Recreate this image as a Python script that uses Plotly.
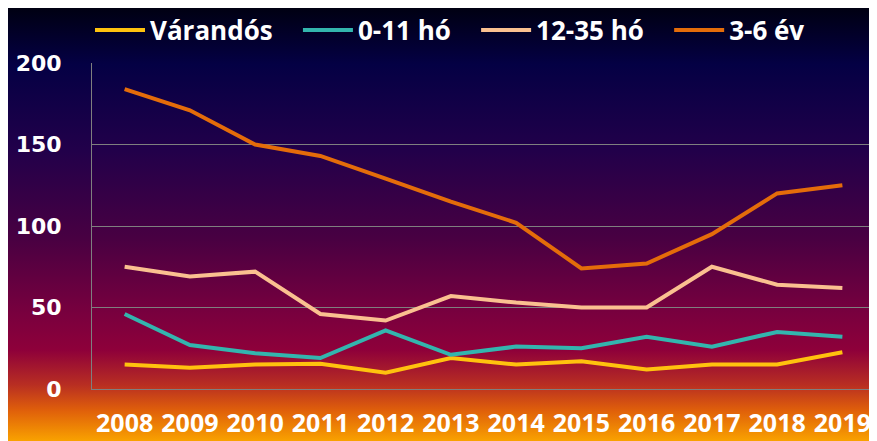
import base64
import plotly.graph_objects as go

years = ["2008", "2009", "2010", "2011", "2012", "2013", "2014", "2015", "2016", "2017", "2018", "2019"]
varandos = [15, 13, 15, 15.5, 10, 19, 15, 17, 12, 15, 15, 22.5]
ho_0_11 = [46, 27, 22, 19, 36, 21, 26, 25, 32, 26, 35, 32]
ho_12_35 = [75, 69, 72, 46, 42, 57, 53, 50, 50, 75, 64, 62]
ev_3_6 = [184, 171, 150, 143, 129, 115, 102, 74, 77, 95, 120, 125]

series_names = ["Várandós", "0-11 hó", "12-35 hó", "3-6 év"]
series_values = [varandos, ho_0_11, ho_12_35, ev_3_6]
series_colors = ["#FFC20E", "#33B5AE", "#FAC090", "#E46C0A"]

# page body has an 8px margin, so the figure is 8px smaller each way
W, H = 869, 433
ML, MR, MT, MB = 84, 2, 55, 52
PW, PH = W - ML - MR, H - MT - MB

svg = f'''<svg xmlns="http://www.w3.org/2000/svg" width="{W}" height="{H}" preserveAspectRatio="none">
<defs><linearGradient id="g" x1="0" y1="0" x2="0" y2="1">
<stop offset="0" stop-color="#000012"/>
<stop offset="0.13" stop-color="#040044"/>
<stop offset="0.33" stop-color="#22004a"/>
<stop offset="0.53" stop-color="#480042"/>
<stop offset="0.71" stop-color="#7a003e"/>
<stop offset="0.79" stop-color="#8e003a"/>
<stop offset="0.87" stop-color="#b82e22"/>
<stop offset="0.93" stop-color="#e0600a"/>
<stop offset="1" stop-color="#f9a200"/>
</linearGradient></defs>
<rect x="0" y="0" width="{W}" height="{H}" fill="url(#g)"/>
</svg>'''
src = "data:image/svg+xml;base64," + base64.b64encode(svg.encode()).decode()

fig = go.Figure()
for name, vals, col in zip(series_names, series_values, series_colors):
    fig.add_trace(go.Scatter(x=years, y=vals, name=name + "\u00a0\u00a0\u00a0", mode="lines",
                             line=dict(color=col, width=4)))

fig.add_layout_image(dict(
    source=src, xref="paper", yref="paper",
    x=-ML / PW, y=1 + MT / PH,
    sizex=W / PW, sizey=H / PH,
    xanchor="left", yanchor="top", sizing="stretch", layer="below"))

fig.update_layout(
    width=W, height=H,
    margin=dict(l=ML, r=MR, t=MT, b=MB, autoexpand=False),
    paper_bgcolor="white", plot_bgcolor="rgba(0,0,0,0)",
    showlegend=True,
    legend=dict(orientation="h", xref="container", yref="container",
                x=452 / W, xanchor="center",
                y=1 - 22 / H, yanchor="middle",
                font=dict(family="Open Sans", size=26, color="white", weight="bold"),
                bgcolor="rgba(0,0,0,0)", itemwidth=50),
    xaxis=dict(type="category", range=[-0.5, 11.5], showgrid=False,
               showline=True, linecolor="#7f7f7f", linewidth=1, ticks="",
               tickfont=dict(family="Open Sans", size=25, color="white", weight="bold"),
               ticklabelstandoff=12),
    yaxis=dict(range=[0, 200], tickvals=[0, 50, 100, 150, 200],
               showgrid=True, gridcolor="#7f7f7f", gridwidth=1,
               showline=True, linecolor="#7f7f7f", linewidth=1, zeroline=False,
               ticks="",
               tickfont=dict(family="DejaVu Sans", size=22, color="white", weight="bold"),
               ticklabelstandoff=25),
)
fig.write_html("out.html")
